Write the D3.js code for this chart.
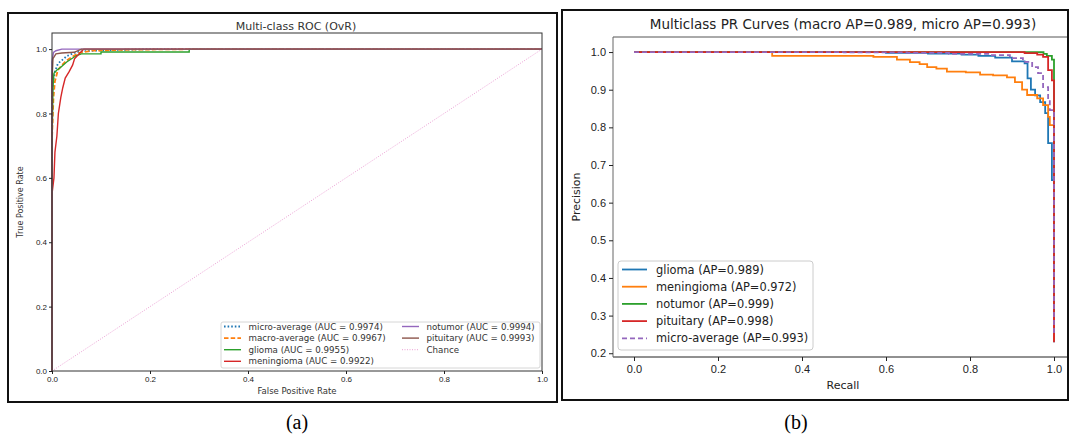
<!DOCTYPE html>
<html>
<head>
<meta charset="utf-8">
<script src="https://cdn.jsdelivr.net/npm/d3@7"></script>
<style>
  body { margin: 0; background: #fff; }
  svg { display: block; font-family: "DejaVu Sans", sans-serif; }
  .tick text { fill: #222; }
  .tick line { stroke: #222; }
</style>
</head>
<body>
<svg id="chart" width="1071" height="436"></svg>
<script>
// ---- data ----
// ROC curves: [false positive rate, true positive rate]
const rocMicro = [[0,0],[0,0.85],[0.003,0.91],[0.006,0.93],[0.012,0.955],[0.02,0.965],[0.03,0.978],[0.045,0.988],[0.06,0.993],[0.1,0.996],[0.2,1],[1,1]];
const rocMacro = [[0,0],[0,0.72],[0.003,0.85],[0.006,0.9],[0.012,0.935],[0.02,0.95],[0.03,0.965],[0.04,0.975],[0.055,0.988],[0.08,0.995],[0.15,0.998],[0.3,1],[1,1]];
const rocGlioma = [[0,0],[0,0.7],[0.002,0.88],[0.004,0.925],[0.01,0.935],[0.015,0.94],[0.03,0.96],[0.04,0.97],[0.05,0.98],[0.06,0.985],[0.1,0.985],[0.1,0.991],[0.28,0.991],[0.28,1],[1,1]];
const rocMeningioma = [[0,0],[0,0.55],[0.004,0.6],[0.006,0.68],[0.01,0.73],[0.013,0.8],[0.018,0.85],[0.022,0.88],[0.027,0.91],[0.035,0.93],[0.042,0.95],[0.046,0.97],[0.055,0.985],[0.065,1],[1,1]];
const rocNotumor = [[0,0],[0,0.96],[0.003,0.99],[0.008,0.995],[0.02,1],[1,1]];
const rocPituitary = [[0,0],[0,0.9],[0.002,0.97],[0.008,0.985],[0.02,0.988],[0.045,0.99],[0.06,1],[1,1]];
const rocChance = [[0,0],[1,1]];

// PR curves: [recall, precision]
const prGlioma = [[0,1],[0.6,0.998],[0.7,0.996],[0.78,0.993],[0.82,0.99],[0.86,0.985],[0.9,0.975],[0.93,0.97],[0.937,0.93],[0.945,0.9],[0.955,0.885],[0.967,0.867],[0.979,0.838],[0.986,0.758],[0.995,0.66],[1.0,0.505],[1.0,0.229]];
const prMeningioma = [[0,1],[0.329,0.99],[0.57,0.987],[0.626,0.98],[0.657,0.973],[0.68,0.968],[0.698,0.96],[0.72,0.956],[0.745,0.948],[0.79,0.946],[0.824,0.94],[0.855,0.938],[0.888,0.933],[0.907,0.92],[0.924,0.9],[0.936,0.886],[0.96,0.877],[0.974,0.859],[0.986,0.828],[0.99,0.806],[1.0,0.233]];
const prNotumor = [[0,1],[0.96,1],[0.975,0.995],[0.983,0.99],[0.995,0.98],[1.0,0.309]];
const prPituitary = [[0,1],[0.93,0.997],[0.96,0.993],[0.974,0.987],[0.986,0.952],[0.995,0.925],[1.0,0.229]];
const prMicro = [[0,1],[0.5,0.999],[0.65,0.998],[0.75,0.995],[0.848,0.992],[0.895,0.984],[0.926,0.974],[0.948,0.96],[0.962,0.944],[0.974,0.907],[0.986,0.872],[0.99,0.846],[1.0,0.25]];

const rocLabels = ["micro-average (AUC = 0.9974)", "macro-average (AUC = 0.9967)", "glioma (AUC = 0.9955)",
                   "meningioma (AUC = 0.9922)", "notumor (AUC = 0.9994)", "pituitary (AUC = 0.9993)", "Chance"];
const prLabels = ["glioma (AP=0.989)", "meningioma (AP=0.972)", "notumor (AP=0.999)",
                  "pituitary (AP=0.998)", "micro-average (AP=0.993)"];
const rocTicks = [0, 0.2, 0.4, 0.6, 0.8, 1.0];
const prXTicks = [0, 0.2, 0.4, 0.6, 0.8, 1.0];
const prYTicks = [0.2, 0.3, 0.4, 0.5, 0.6, 0.7, 0.8, 0.9, 1.0];

const svg = d3.select("#chart");
const fmt = d3.format(".1f");

// panel frames
svg.append("rect").attr("x", 8).attr("y", 13).attr("width", 549).attr("height", 389)
  .attr("fill", "none").attr("stroke", "#111").attr("stroke-width", 2);
svg.append("rect").attr("x", 562).attr("y", 10).attr("width", 506).attr("height", 390)
  .attr("fill", "none").attr("stroke", "#111").attr("stroke-width", 2);

// ================= (a) ROC =================
const xL = d3.scaleLinear().domain([0, 1]).range([52, 542]);
const yL = d3.scaleLinear().domain([0, 1.05]).range([371, 33]);
const gA = svg.append("g");

const rocSeries = [
  { d: rocMicro, c: "#1f77b4", dash: "1.6,2", w: 1.8 },
  { d: rocMacro, c: "#ff7f0e", dash: "4.5,2.2", w: 1.8 },
  { d: rocGlioma, c: "#2ca02c", dash: null, w: 1.4 },
  { d: rocMeningioma, c: "#d62728", dash: null, w: 1.4 },
  { d: rocNotumor, c: "#9467bd", dash: null, w: 1.4 },
  { d: rocPituitary, c: "#8c564b", dash: null, w: 1.4 },
  { d: rocChance, c: "#e377c2", dash: "1,1.5", w: 0.7 }
];
const lineL = d3.line().x(d => xL(d[0])).y(d => yL(d[1]));

gA.append("g").selectAll("path")
  .data(rocSeries)
  .join("path")
  .attr("fill", "none")
  .attr("stroke", s => s.c)
  .attr("stroke-width", s => s.w)
  .attr("stroke-dasharray", s => s.dash)
  .attr("d", s => lineL(s.d));

gA.append("rect").attr("x", 52).attr("y", 33).attr("width", 490).attr("height", 338)
  .attr("fill", "none").attr("stroke", "#333").attr("stroke-width", 1);

gA.append("g").attr("transform", "translate(0,371)")
  .call(d3.axisBottom(xL).tickValues(rocTicks).tickFormat(fmt).tickSize(3).tickPadding(2))
  .call(g => g.select(".domain").remove())
  .selectAll("text").attr("font-size", 8).attr("fill", "#333");
gA.append("g").attr("transform", "translate(52,0)")
  .call(d3.axisLeft(yL).tickValues(rocTicks).tickFormat(fmt).tickSize(3).tickPadding(2))
  .call(g => g.select(".domain").remove())
  .selectAll("text").attr("font-size", 8).attr("fill", "#333");

gA.append("text").attr("x", 296).attr("y", 30).attr("text-anchor", "middle")
  .attr("font-size", 11).attr("fill", "#333").text("Multi-class ROC (OvR)");
gA.append("text").attr("x", 297).attr("y", 394).attr("text-anchor", "middle")
  .attr("font-size", 8.5).attr("fill", "#333").text("False Positive Rate");
gA.append("text").attr("transform", "translate(23,202) rotate(-90)").attr("text-anchor", "middle")
  .attr("font-size", 8).attr("fill", "#333").text("True Positive Rate");

// legend (a)
const legA = gA.append("g");
legA.append("rect").attr("x", 221).attr("y", 322).attr("width", 319).attr("height", 46)
  .attr("rx", 2).attr("fill", "#fff").attr("fill-opacity", 0.8).attr("stroke", "#ccc").attr("stroke-width", 0.8);
rocSeries.forEach((s, i) => {
  const col = i < 4 ? 0 : 1;
  const row = i < 4 ? i : i - 4;
  const x0 = col === 0 ? 224 : 402;
  const y0 = 326.5 + row * 11.6;
  legA.append("line").attr("x1", x0).attr("x2", x0 + 17).attr("y1", y0).attr("y2", y0)
    .attr("stroke", s.c).attr("stroke-width", s.w).attr("stroke-dasharray", s.dash);
  legA.append("text").attr("x", x0 + 24.5).attr("y", y0 + 3).attr("font-size", 8.7)
    .attr("fill", "#333").text(rocLabels[i]);
});

// ================= (b) PR =================
const xR = d3.scaleLinear().domain([-0.05, 1.05]).range([613, 1075]);
const yR = d3.scaleLinear().domain([0.19, 1.04]).range([357, 37]);
const gB = svg.append("g");

svg.append("clipPath").attr("id", "clipB")
  .append("rect").attr("x", 560).attr("y", 0).attr("width", 507).attr("height", 436);
const plotB = gB.append("g").attr("clip-path", "url(#clipB)");

const prSeries = [
  { d: prGlioma, c: "#1f77b4", dash: null },
  { d: prMeningioma, c: "#ff7f0e", dash: null },
  { d: prNotumor, c: "#2ca02c", dash: null },
  { d: prPituitary, c: "#d62728", dash: null },
  { d: prMicro, c: "#9467bd", dash: "5,3" }
];
const lineR = d3.line().x(d => xR(d[0])).y(d => yR(d[1])).curve(d3.curveStepAfter);

plotB.append("g").selectAll("path")
  .data(prSeries)
  .join("path")
  .attr("fill", "none")
  .attr("stroke", s => s.c)
  .attr("stroke-width", 1.8)
  .attr("stroke-dasharray", s => s.dash)
  .attr("d", s => lineR(s.d));

// spines (right spine falls outside the cropped panel)
plotB.append("line").attr("x1", 613).attr("x2", 1075).attr("y1", 37).attr("y2", 37)
  .attr("stroke", "#555").attr("stroke-width", 1);
plotB.append("line").attr("x1", 613).attr("x2", 1075).attr("y1", 357).attr("y2", 357)
  .attr("stroke", "#222").attr("stroke-width", 1);
plotB.append("line").attr("x1", 613).attr("x2", 613).attr("y1", 37).attr("y2", 357)
  .attr("stroke", "#666").attr("stroke-width", 1);

gB.append("g").attr("transform", "translate(0,357)")
  .call(d3.axisBottom(xR).tickValues(prXTicks).tickFormat(fmt).tickSize(4).tickPadding(4))
  .call(g => g.select(".domain").remove())
  .selectAll("text").attr("font-size", 11);
gB.append("g").attr("transform", "translate(613,0)")
  .call(d3.axisLeft(yR).tickValues(prYTicks).tickFormat(fmt).tickSize(4).tickPadding(3))
  .call(g => g.select(".domain").remove())
  .selectAll("text").attr("font-size", 11);

gB.append("text").attr("x", 843).attr("y", 29).attr("text-anchor", "middle")
  .attr("font-size", 13.5).attr("fill", "#222").text("Multiclass PR Curves (macro AP=0.989, micro AP=0.993)");
gB.append("text").attr("x", 843).attr("y", 389).attr("text-anchor", "middle")
  .attr("font-size", 11).attr("fill", "#222").text("Recall");
gB.append("text").attr("transform", "translate(580,197) rotate(-90)").attr("text-anchor", "middle")
  .attr("font-size", 11).attr("fill", "#222").text("Precision");

// legend (b)
const legB = gB.append("g");
legB.append("rect").attr("x", 618).attr("y", 261).attr("width", 195).attr("height", 89)
  .attr("rx", 3).attr("fill", "#fff").attr("fill-opacity", 0.8).attr("stroke", "#ccc").attr("stroke-width", 1);
prSeries.forEach((s, i) => {
  const y0 = 269.5 + i * 17.2;
  legB.append("line").attr("x1", 622).attr("x2", 647).attr("y1", y0).attr("y2", y0)
    .attr("stroke", s.c).attr("stroke-width", 1.8).attr("stroke-dasharray", s.dash);
  legB.append("text").attr("x", 656).attr("y", y0 + 4).attr("font-size", 11.4)
    .attr("fill", "#222").text(prLabels[i]);
});

// sub-captions
svg.append("text").attr("x", 297).attr("y", 429).attr("text-anchor", "middle")
  .attr("font-family", "'Liberation Serif', 'Times New Roman', serif").attr("font-size", 20)
  .attr("fill", "#000").text("(a)");
svg.append("text").attr("x", 796).attr("y", 429).attr("text-anchor", "middle")
  .attr("font-family", "'Liberation Serif', 'Times New Roman', serif").attr("font-size", 20)
  .attr("fill", "#000").text("(b)");
</script>
</body>
</html>
